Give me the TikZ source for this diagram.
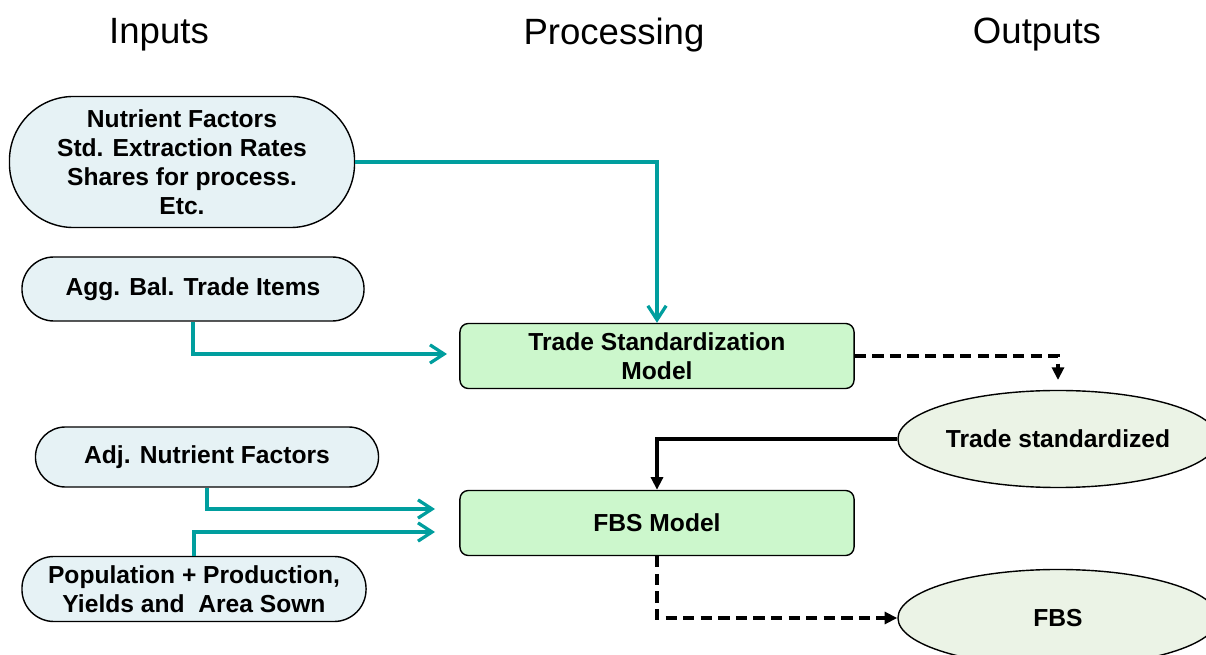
\documentclass[tikz,border=0pt]{standalone}
\usepackage{fontspec}
\setmainfont{Liberation Sans}
\usetikzlibrary{arrows.meta,shapes.geometric}
\definecolor{inblue}{HTML}{E6F2F5}
\definecolor{modgreen}{HTML}{CCF7CC}
\definecolor{outgreen}{HTML}{EBF3E6}
\definecolor{feedteal}{HTML}{009E9E}
\tikzset{
  heading/.style={font=\fontsize{26}{31}\selectfont},
  inbox/.style={draw, line width=1pt, fill=inblue, align=center, inner sep=0pt,
    font=\bfseries\fontsize{17.5}{20.6}\selectfont},
  modelbox/.style={draw, line width=1pt, fill=modgreen, rounded corners=6pt, align=center,
    inner sep=0pt, minimum width=9.85cm, minimum height=1.625cm,
    font=\bfseries\fontsize{17.5}{20.6}\selectfont},
  outell/.style={draw, ellipse, line width=1pt, fill=outgreen, inner sep=0pt,
    minimum width=8cm, minimum height=2.425cm,
    font=\bfseries\fontsize{17.5}{20.6}\selectfont},
  feed/.style={draw=feedteal, line width=2.3pt, -{Straight Barb[length=10pt,width=13pt]}},
  flow/.style={draw, line width=2.3pt, dash pattern=on 8pt off 4.5pt, -{Triangle[length=9pt,width=8.5pt]}},
  back/.style={draw, line width=2.3pt, -{Triangle[length=9pt,width=8.5pt]}}
}
\begin{document}
\begin{tikzpicture}[x=0.025cm, y=-0.025cm]
 \useasboundingbox (0,0) rectangle (1206,655);
 \clip (0,0) rectangle (1206,655);

 \node[heading] (hin) at (159,35) {Inputs};
 \node[heading] (hproc) at (614,35) {Processing};
 \node[heading] (hout) at (1037,35) {Outputs};

 \node[inbox, rounded corners=1.6cm, minimum width=8.625cm, minimum height=3.275cm] (nf) at (182,162)
   {Nutrient Factors\\Std. Extraction Rates\\Shares for process.\\Etc.};
 \node[inbox, rounded corners=0.8cm, minimum width=8.55cm, minimum height=1.6cm] (agg) at (193,289)
   {Agg. Bal. Trade Items};
 \node[inbox, rounded corners=0.75cm, minimum width=8.575cm, minimum height=1.5cm] (adj) at (207,457)
   {Adj. Nutrient Factors};
 \node[inbox, rounded corners=0.8cm, minimum width=8.6cm, minimum height=1.625cm] (pop) at (194,589)
   {Population + Production,\\Yields and\ \ Area Sown};

 \node[modelbox] (tsm) at (657,356) {Trade Standardization\\Model};
 \node[modelbox] (fbsm) at (657,523) {FBS Model};

 \node[outell] (ts) at (1058,439) {Trade standardized};
 \node[outell] (fbs) at (1058,618) {FBS};

 \coordinate (tsmin) at (447,354);
 \coordinate (fbsin1) at (435,509);
 \coordinate (fbsin2) at (435,532);
 \coordinate (tsdrop) at (1058,380);

 \draw[feed] (nf.east) -| (tsm.north);
 \draw[feed] (agg.south) |- (tsmin);
 \draw[feed] (adj.south) |- (fbsin1);
 \draw[feed] (pop.north) |- (fbsin2);

 \draw[flow] (tsm.east) -| (tsdrop);
 \draw[back] (ts.west) -| (fbsm.north);
 \draw[flow] (fbsm.south) |- (fbs.west);
\end{tikzpicture}
\end{document}
